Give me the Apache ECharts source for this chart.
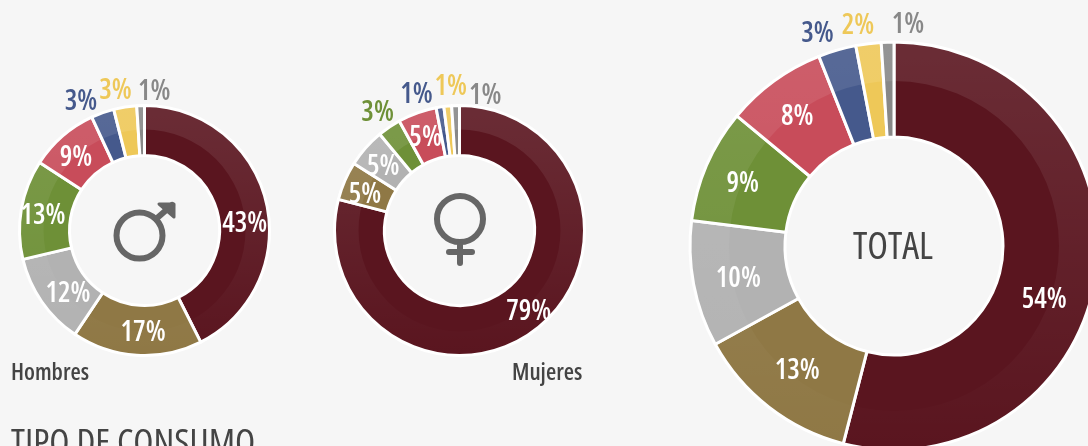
<!DOCTYPE html>
<html><head><meta charset="utf-8">
<style>html,body{margin:0;padding:0;background:#f6f6f6;overflow:hidden}#c{width:1088px;height:446px}</style>
<script src="https://cdn.jsdelivr.net/npm/echarts@6/dist/echarts.min.js"></script>
</head><body><div id="c"></div>
<script>
const categories=['A','B','C','D','E','F','G','H'];
const hombres=[43,17,12,13,9,3,3,1];
const mujeres=[79,5,5,3,5,1,1,1];
const total=[54,13,10,9,8,3,2,1];
const colors=['#5a151f','#8f7845','#b2b2b2','#6e9037','#c84c5a','#45598c','#eec858','#888888'];
const nudgeH=[[0,17],[5,0],[8,5],[0,3],[-1,5],[-29,-31],[-13,-38],[13,-36]];
const nudgeM=[[6,0],[0,5],[1,5],[-24,-32],[1,4],[-27,-34],[1,-41],[29,-32]];
const nudgeT=[[-8,34],[1,-1],[1,3],[-5,1],[-3,0],[-32,-59],[-16,-62],[19,-62]];
const NARROW='"Open Sans",sans-serif';
const TXT='#444444', ICON='#666666';
function pie(values,nudge,center,R,r,size){
  const inner=Math.round(R*0.81);
  return [
   {type:'pie',z:2,center,radius:[r,R],startAngle:90,silent:true,label:{show:false},labelLine:{show:false},
    data:values.map((v,i)=>({name:categories[i],value:v,itemStyle:{color:colors[i],borderColor:'#fff',borderWidth:3}}))},
   {type:'pie',z:3,center,radius:[inner,R],startAngle:90,silent:true,label:{show:false},labelLine:{show:false},
    data:[{value:1,itemStyle:{color:new echarts.graphic.LinearGradient(0,0,0,1,[{offset:0,color:'rgba(255,255,255,0.1)'},{offset:1,color:'rgba(255,255,255,0)'}])}}]},
   {type:'pie',z:4,center,radius:[r,R],startAngle:90,silent:true,avoidLabelOverlap:false,labelLine:{show:false},labelLayout:{hideOverlap:false},
    data:values.map((v,i)=>({name:categories[i],value:v,itemStyle:{color:'transparent'},
      label:{show:true,position:'inside',offset:nudge[i],formatter:'{c}%',fontStyle:'condensed',fontFamily:NARROW,fontWeight:600,fontSize:size,color:v>=5?'#fff':colors[i]}}))}
  ];
}
const chart=echarts.init(document.getElementById('c'),null,{renderer:'canvas'});
chart.setOption({
 backgroundColor:'#f6f6f6',animation:false,
 series:[...pie(hombres,nudgeH,[144.5,230.5],125,75,28),...pie(mujeres,nudgeM,[459.5,230.5],125,75,28),...pie(total,nudgeT,[894,246],204,109,28)],
 graphic:[
  {type:'text',left:11,top:361,style:{text:'Hombres',fontStyle:'condensed',fontFamily:NARROW,fontWeight:600,fontSize:23.5,fill:TXT}},
  {type:'text',left:512,top:361,style:{text:'Mujeres',fontStyle:'condensed',fontFamily:NARROW,fontWeight:600,fontSize:23.5,fill:TXT}},
  {type:'text',left:11,top:426,style:{text:'TIPO DE CONSUMO',fontStyle:'condensed',fontFamily:NARROW,fontWeight:400,fontSize:37,fill:TXT}},
  {type:'text',x:893,y:248,style:{text:'TOTAL',fontStyle:'condensed',fontFamily:NARROW,fontWeight:400,fontSize:38,fill:TXT,align:'center',verticalAlign:'middle'}},
  {type:'circle',shape:{cx:139.5,cy:235.5,r:23},style:{fill:'none',stroke:ICON,lineWidth:6}},
  {type:'line',shape:{x1:156,y1:219,x2:172,y2:205},style:{stroke:ICON,lineWidth:6,lineCap:'round'}},
  {type:'polygon',shape:{points:[[159,204],[174,204],[174,217]]},style:{fill:ICON,stroke:ICON,lineWidth:3,lineJoin:'round'}},
  {type:'circle',shape:{cx:460,cy:219,r:23},style:{fill:'none',stroke:ICON,lineWidth:6}},
  {type:'line',shape:{x1:460,y1:245,x2:460,y2:263},style:{stroke:ICON,lineWidth:6,lineCap:'round'}},
  {type:'line',shape:{x1:449,y1:252,x2:472,y2:252},style:{stroke:ICON,lineWidth:6,lineCap:'round'}}
 ]
});
</script></body></html>
